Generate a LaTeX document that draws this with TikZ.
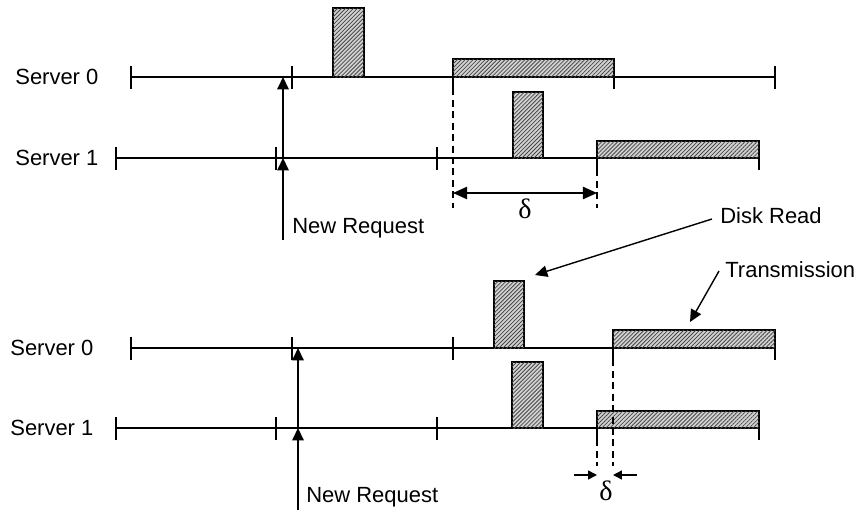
\documentclass[tikz,border=0pt]{standalone}
\usepackage{fontspec}
\setmainfont{Liberation Sans}
\newfontfamily\deltafont{Liberation Serif}
\usetikzlibrary{arrows.meta,patterns.meta}

\tikzset{
  lbl/.style={font=\fontsize{12.5}{14}\selectfont, inner sep=0pt},
  axis/.style={line width=0.8pt},
  tick/.style={line width=1.1pt},
  hatch/.style={draw, line width=1pt, fill=gray!35,
    postaction={pattern={Lines[angle=45,distance=1.6pt,line width=0.45pt]}, pattern color=gray!55!black}},
  guide/.style={line width=0.8pt, dash pattern=on 4pt off 2.5pt},
  small/.style={-{Triangle[length=5pt,width=5pt]}},
}

\begin{document}
\begin{tikzpicture}[x=0.2mm, y=-0.2mm, >={Triangle[length=7pt,width=6.5pt]}]
    \useasboundingbox (0,0) rectangle (856,513);

    % Label server
    \node[lbl, anchor=west] (s0a) at (15,77)  {Server 0};
    \node[lbl, anchor=west] (s1a) at (15,158) {Server 1};
    \node[lbl, anchor=west] (s0b) at (10,348) {Server 0};
    \node[lbl, anchor=west] (s1b) at (10,428) {Server 1};

    % Garis waktu (atas)
    \draw[axis] (131,77) -- (775,77);
    \draw[axis] (116,158) -- (759,158);
    \foreach \x in {131,292,453,614,775} \draw[tick] (\x,66) -- (\x,89);
    \foreach \x in {116,276,437,597,759} \draw[tick] (\x,147) -- (\x,170);

    % Garis waktu (bawah)
    \draw[axis] (131,348) -- (775,348);
    \draw[axis] (116,428) -- (759,428);
    \foreach \x in {131,292,453,613,775} \draw[tick] (\x,337) -- (\x,360);
    \foreach \x in {116,276,437,597,759} \draw[tick] (\x,417) -- (\x,440);

    % Baca disk dan transmisi (atas)
    \draw[hatch] (333,77) rectangle (364,8);
    \draw[hatch] (453,77) rectangle (614,59);
    \draw[hatch] (513,158) rectangle (543,92);
    \draw[hatch] (597,158) rectangle (759,141);

    % Baca disk dan transmisi (bawah)
    \draw[hatch] (494,348) rectangle (524,281);
    \draw[hatch] (613,348) rectangle (775,330);
    \draw[hatch] (512,428) rectangle (543,362);
    \draw[hatch] (597,428) rectangle (759,411);

    % Permintaan baru
    \coordinate (nra) at (283,240);
    \coordinate (nra1) at (283,158);
    \coordinate (nra0) at (283,77);
    \draw[axis, ->] (nra) -- (nra1);
    \draw[axis, ->] (nra1) -- (nra0);
    \node[lbl, anchor=west] (reqa) at (292,228) {New Request};

    \coordinate (nrb) at (298,510);
    \coordinate (nrb1) at (298,428);
    \coordinate (nrb0) at (298,348);
    \draw[axis, ->] (nrb) -- (nrb1);
    \draw[axis, ->] (nrb1) -- (nrb0);
    \node[lbl, anchor=west] (reqb) at (306,497) {New Request};

    % Selisih delta (atas)
    \coordinate (da0) at (453,77);
    \coordinate (da1) at (597,158);
    \coordinate (dae0) at (453,208);
    \coordinate (dae1) at (597,208);
    \draw[guide] (da0) -- (dae0);
    \draw[guide] (da1) -- (dae1);
    \draw[axis, {Triangle[length=8pt,width=7pt]}-{Triangle[length=8pt,width=7pt]}] (453,193) -- (597,193);
    \node[font=\deltafont\fontsize{16}{18}\selectfont, inner sep=0pt] (dela) at (525,209) {δ};

    % Selisih delta (bawah)
    \coordinate (db0) at (613,348);
    \coordinate (db1) at (597,428);
    \coordinate (dbe0) at (613,466);
    \coordinate (dbe1) at (597,466);
    \draw[guide] (db0) -- (dbe0);
    \draw[guide] (db1) -- (dbe1);
    \draw[axis, small] (574,475) -- (597,475);
    \draw[axis, small] (637,475) -- (613,475);
    \node[font=\deltafont\fontsize{16}{18}\selectfont, inner sep=0pt] (delb) at (606,491) {δ};

    % Keterangan
    \node[lbl, anchor=west] (disk) at (720,216) {Disk Read};
    \coordinate (diskend) at (535,275);
    \draw[axis, ->] (712,219) -- (diskend);
    \node[lbl, anchor=west] (trans) at (725,270) {Transmission};
    \coordinate (transend) at (690,322);
    \draw[axis, ->] (719,271) -- (transend);

\end{tikzpicture}
\end{document}
